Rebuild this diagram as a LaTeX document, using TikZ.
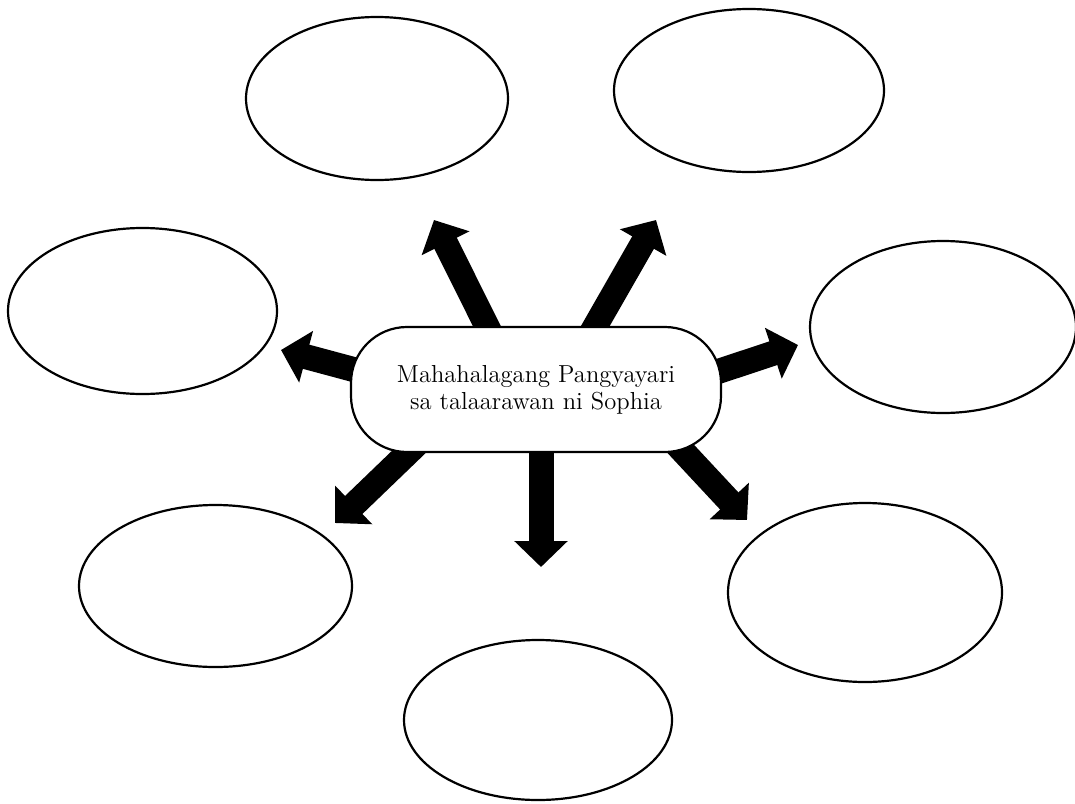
\documentclass[tikz,border=0pt]{standalone}
\usepackage{tikz}
\usetikzlibrary{shapes.geometric}
\usetikzlibrary{arrows.meta}
\usetikzlibrary{backgrounds}

\begin{document}
\begin{tikzpicture}[x=0.5pt, y=-0.5pt,
		bubble/.style={draw, ellipse, line width=1.1pt, inner sep=0pt},
		hub/.style={draw, fill=white, rounded corners=28pt, line width=1.1pt, minimum width=185pt, minimum height=62.5pt, align=center, font=\fontsize{12.3}{13.5}\selectfont},
		blk/.style={line width=12.5pt, -{Triangle[length=13pt, width=26pt]}}]
			\useasboundingbox (0, 0) rectangle (1075, 803);
			\node[hub] (c) at (536, 389.5) {Mahahalagang Pangyayari\\sa talaarawan ni Sophia};
			\node[bubble, minimum width=131pt, minimum height=81.5pt] (e1) at (377, 98.5) {};
			\node[bubble, minimum width=135pt, minimum height=81.5pt] (e2) at (749, 90.5) {};
			\node[bubble, minimum width=134.5pt, minimum height=83pt] (e3) at (142.5, 311) {};
			\node[bubble, minimum width=133pt, minimum height=86pt] (e4) at (943, 327) {};
			\node[bubble, minimum width=136.5pt, minimum height=81pt] (e5) at (215.5, 586) {};
			\node[bubble, minimum width=137pt, minimum height=89.5pt] (e6) at (865, 592.5) {};
			\node[bubble, minimum width=134pt, minimum height=80pt] (e7) at (538, 720) {};
			\coordinate (t1) at (434, 220);
			\coordinate (t2) at (656, 220);
			\coordinate (t3) at (281, 350);
			\coordinate (t4) at (798, 345);
			\coordinate (t5) at (335, 523);
			\coordinate (t6) at (541, 567);
			\coordinate (t7) at (747, 520);
			\begin{scope}[on background layer]
				\draw[blk] ([shift={(-31, -27)}]c.center) -- (t1);
				\draw[blk] ([shift={(39, -28)}]c.center) -- (t2);
				\draw[blk] ([shift={(-149, -11)}]c.center) -- (t3);
				\draw[blk] ([shift={(158, -10)}]c.center) -- (t4);
				\draw[blk] ([shift={(-107, 43)}]c.center) -- (t5);
				\draw[blk] ([shift={(5, 30)}]c.center) -- (t6);
				\draw[blk] ([shift={(122, 35)}]c.center) -- (t7);
			\end{scope}
		\end{tikzpicture}
\end{document}
